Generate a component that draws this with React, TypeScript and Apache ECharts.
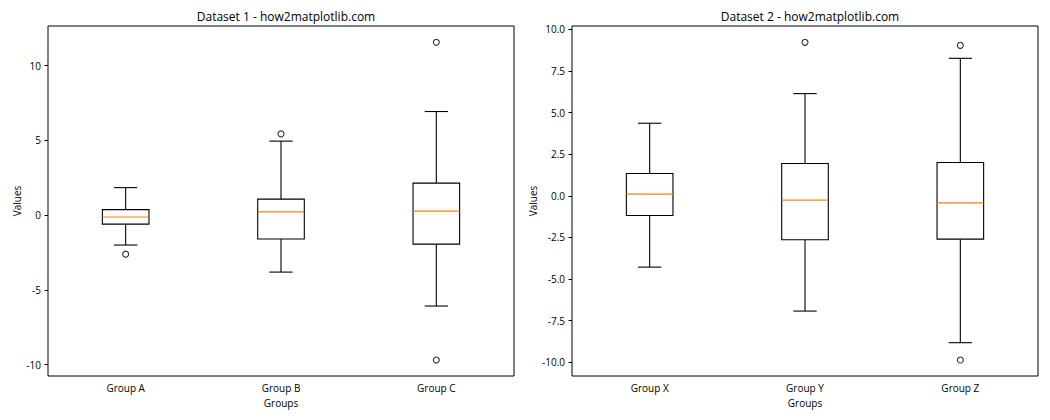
import React, { useEffect, useRef } from "react";
import * as echarts from "echarts";

// Dataset 1
const groups1 = ["Group A", "Group B", "Group C"];
// [min whisker, Q1, median, Q3, max whisker]
const box1 = [
  [-2.0, -0.6, -0.13, 0.37, 1.84],
  [-3.81, -1.6, 0.22, 1.07, 4.95],
  [-6.08, -1.94, 0.27, 2.14, 6.93],
];
// [group index, value]
const outliers1 = [
  [0, -2.61],
  [1, 5.43],
  [2, 11.56],
  [2, -9.69],
];

// Dataset 2
const groups2 = ["Group X", "Group Y", "Group Z"];
const box2 = [
  [-4.28, -1.18, 0.1, 1.34, 4.36],
  [-6.92, -2.64, -0.26, 1.94, 6.14],
  [-8.82, -2.6, -0.42, 2.0, 8.26],
];
const outliers2 = [
  [1, 9.22],
  [2, 9.04],
  [2, -9.86],
];

const yRange1 = [-10.76, 12.65];
const yRange2 = [-10.82, 10.2];

const titles = ["Dataset 1 - how2matplotlib.com", "Dataset 2 - how2matplotlib.com"];

const FONT = "Open Sans";

function renderBox(params: any, api: any) {
  const idx = api.value(0);
  const lo = api.value(1);
  const q1 = api.value(2);
  const med = api.value(3);
  const q3 = api.value(4);
  const hi = api.value(5);
  const bandW = api.size([1, 0])[0];
  const bw = bandW * 0.3;
  const cw = bw / 2;
  const pLo = api.coord([idx, lo]);
  const pQ1 = api.coord([idx, q1]);
  const pMed = api.coord([idx, med]);
  const pQ3 = api.coord([idx, q3]);
  const pHi = api.coord([idx, hi]);
  const cx = pMed[0];
  const ls = { stroke: "#000", lineWidth: 1.1, fill: null };
  return {
    type: "group",
    children: [
      { type: "line", shape: { x1: cx, y1: pQ1[1], x2: cx, y2: pLo[1] }, style: ls },
      { type: "line", shape: { x1: cx, y1: pQ3[1], x2: cx, y2: pHi[1] }, style: ls },
      { type: "line", shape: { x1: cx - cw / 2, y1: pLo[1], x2: cx + cw / 2, y2: pLo[1] }, style: ls },
      { type: "line", shape: { x1: cx - cw / 2, y1: pHi[1], x2: cx + cw / 2, y2: pHi[1] }, style: ls },
      {
        type: "rect",
        shape: { x: cx - bw / 2, y: pQ3[1], width: bw, height: pQ1[1] - pQ3[1] },
        style: { stroke: "#000", lineWidth: 1.1, fill: "#fff" },
      },
      {
        type: "line",
        shape: { x1: cx - bw / 2, y1: pMed[1], x2: cx + bw / 2, y2: pMed[1] },
        style: { stroke: "#ff7f0e", lineWidth: 1.1 },
      },
    ],
  };
}

export default function App() {
  const ref = useRef<HTMLDivElement>(null);
  useEffect(() => {
    if (!ref.current) return;
    const chart = echarts.init(ref.current, undefined, { renderer: "svg" });
    const grids = [
      { left: 48, top: 26, width: 466, height: 350 },
      { left: 572, top: 26, width: 466, height: 350 },
    ];
    const axisCommonX = (gi: number, data: string[]) => ({
      type: "category",
      gridIndex: gi,
      data,
      boundaryGap: true,
      name: "Groups",
      nameLocation: "middle",
      nameGap: 22,
      nameTextStyle: { color: "#000", fontFamily: FONT, fontSize: 10 },
      axisLine: { show: false },
      axisTick: { show: true, alignWithLabel: true, length: 3.5, lineStyle: { color: "#000" } },
      axisLabel: { color: "#000", fontFamily: FONT, fontSize: 10, margin: 7 },
      splitLine: { show: false },
    });
    const axisCommonY = (gi: number, range: number[], step: number, gap: number, dec: number) => ({
      type: "value",
      gridIndex: gi,
      min: range[0],
      max: range[1],
      minInterval: step,
      maxInterval: step,
      name: "Values",
      nameLocation: "middle",
      nameGap: gap,
      nameRotate: 90,
      nameTextStyle: { color: "#000", fontFamily: FONT, fontSize: 10 },
      axisLine: { show: false },
      axisTick: { show: true, length: 3.5, lineStyle: { color: "#000" } },
      axisLabel: {
        color: "#000",
        fontFamily: FONT,
        fontSize: 10,
        margin: 7,
        showMinLabel: false,
        showMaxLabel: false,
        formatter: (v: number) => v.toFixed(dec),
      },
      splitLine: { show: false },
    });
    chart.setOption({
      animation: false,
      backgroundColor: "#fff",
      title: titles.map((t, i) => ({
        text: t,
        left: grids[i].left + grids[i].width / 2,
        top: 5,
        textAlign: "center",
        textStyle: { color: "#000", fontFamily: FONT, fontSize: 12, fontWeight: "normal" },
      })),
      grid: grids.map((g) => ({ ...g, show: true, borderColor: "#000", borderWidth: 1, backgroundColor: "transparent" })),
      xAxis: [axisCommonX(0, groups1), axisCommonX(1, groups2)],
      yAxis: [axisCommonY(0, yRange1, 5, 24, 0), axisCommonY(1, yRange2, 2.5, 31, 1)],
      series: [
        {
          type: "custom",
          xAxisIndex: 0,
          yAxisIndex: 0,
          renderItem: renderBox,
          data: box1.map((b, i) => [i, ...b]),
          encode: { x: 0, y: [1, 2, 3, 4, 5] },
          z: 2,
        },
        {
          type: "custom",
          xAxisIndex: 1,
          yAxisIndex: 1,
          renderItem: renderBox,
          data: box2.map((b, i) => [i, ...b]),
          encode: { x: 0, y: [1, 2, 3, 4, 5] },
          z: 2,
        },
        {
          type: "scatter",
          xAxisIndex: 0,
          yAxisIndex: 0,
          symbol: "circle",
          symbolSize: 6,
          itemStyle: { color: "transparent", borderColor: "#000", borderWidth: 1.1 },
          data: outliers1,
          z: 3,
        },
        {
          type: "scatter",
          xAxisIndex: 1,
          yAxisIndex: 1,
          symbol: "circle",
          symbolSize: 6,
          itemStyle: { color: "transparent", borderColor: "#000", borderWidth: 1.1 },
          data: outliers2,
          z: 3,
        },
      ],
    });
    return () => chart.dispose();
  }, []);
  return <div ref={ref} style={{ position: "fixed", left: 0, top: 0, width: 1050, height: 420 }} />;
}
